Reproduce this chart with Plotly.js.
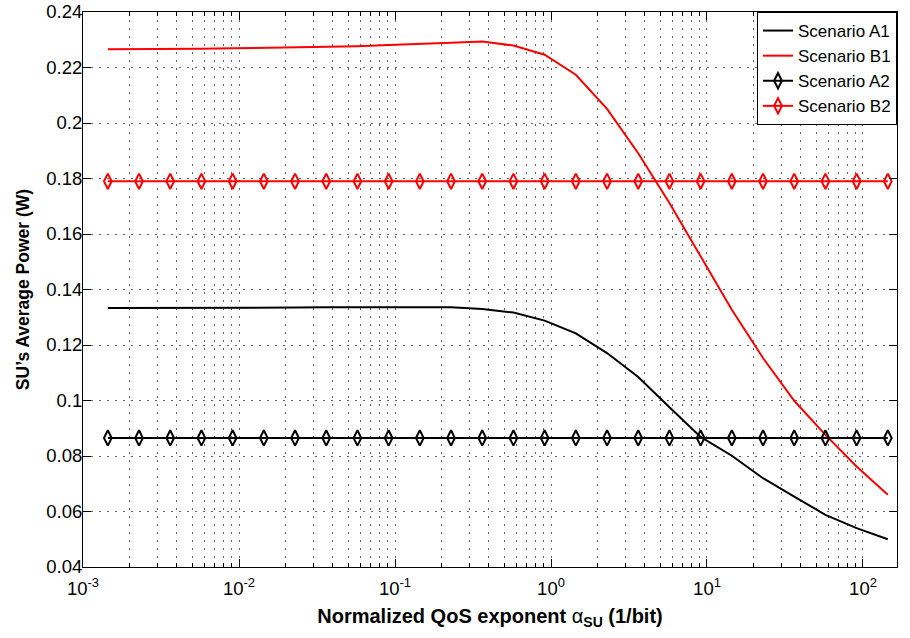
<!DOCTYPE html>
<html>
<head>
<meta charset="utf-8">
<script src="https://cdn.plot.ly/plotly-3.0.1.min.js"></script>
<style>html,body{margin:0;padding:0;background:#fff;}#chart{width:910px;height:638px;}</style>
</head>
<body>
<div id="chart"></div>
<script>
// Normalized QoS exponent alpha_SU (1/bit)
var xAlpha = [0.0014427, 0.0022866, 0.0036239, 0.0057435, 0.0091028, 0.014427, 0.022866, 0.036239, 0.057435, 0.091028,
              0.14427, 0.22866, 0.36239, 0.57435, 0.91028, 1.4427, 2.2866, 3.6239, 5.7435, 9.1028,
              14.427, 22.866, 36.239, 57.435, 91.028, 144.27];

var scenarioA1 = [0.1333, 0.1333, 0.1334, 0.1334, 0.1334, 0.1335, 0.1335, 0.1336, 0.1336, 0.1337,
                  0.1337, 0.1336, 0.1330, 0.1317, 0.1288, 0.1242, 0.1171, 0.1085, 0.0976, 0.0869,
                  0.0801, 0.0720, 0.0654, 0.0588, 0.0540, 0.0500];

var scenarioB1 = [0.2266, 0.2266, 0.2267, 0.2268, 0.2269, 0.2271, 0.2272, 0.2275, 0.2277, 0.2281,
                  0.2284, 0.2289, 0.2294, 0.2279, 0.2246, 0.2174, 0.2051, 0.1891, 0.1712, 0.1517,
                  0.1327, 0.1153, 0.0999, 0.0876, 0.0762, 0.0660];

var scenarioA2 = [0.0865, 0.0865, 0.0865, 0.0865, 0.0865, 0.0865, 0.0865, 0.0865, 0.0865, 0.0865,
                  0.0865, 0.0865, 0.0865, 0.0865, 0.0865, 0.0865, 0.0865, 0.0865, 0.0865, 0.0865,
                  0.0865, 0.0865, 0.0865, 0.0865, 0.0865, 0.0865];

var scenarioB2 = [0.179, 0.179, 0.179, 0.179, 0.179, 0.179, 0.179, 0.179, 0.179, 0.179,
                  0.179, 0.179, 0.179, 0.179, 0.179, 0.179, 0.179, 0.179, 0.179, 0.179,
                  0.179, 0.179, 0.179, 0.179, 0.179, 0.179];

var seriesNames = ['Scenario A1', 'Scenario B1', 'Scenario A2', 'Scenario B2'];

var xTickVals = [0.001, 0.01, 0.1, 1, 10, 100];
var xTickText = ['10<sup>-3</sup>', '10<sup>-2</sup>', '10<sup>-1</sup>', '10<sup>0</sup>', '10<sup>1</sup>', '10<sup>2</sup>'];

var yTickVals = [0.04, 0.06, 0.08, 0.1, 0.12, 0.14, 0.16, 0.18, 0.2, 0.22, 0.24];

// minor tick positions (2..9 in each decade)
var xMinor = [];
for (var d = -3; d <= 2; d++) {
  for (var m = 2; m <= 9; m++) xMinor.push(m * Math.pow(10, d));
}

var FONT = '"Liberation Sans", Arial, Helvetica, sans-serif';
var gridStyle = {color: '#666', dash: '1.5px,6.5px'};

var traces = [
  {x: xAlpha, y: scenarioA1, name: seriesNames[0], mode: 'lines',
   line: {color: '#000000', width: 2}},
  {x: xAlpha, y: scenarioB1, name: seriesNames[1], mode: 'lines',
   line: {color: '#ff0000', width: 2}},
  {x: xAlpha, y: scenarioA2, name: seriesNames[2], mode: 'lines+markers',
   line: {color: '#000000', width: 2},
   marker: {symbol: 'diamond-tall-open', size: 11, color: '#000000', line: {color: '#000000', width: 2}}},
  {x: xAlpha, y: scenarioB2, name: seriesNames[3], mode: 'lines+markers',
   line: {color: '#ff0000', width: 2},
   marker: {symbol: 'diamond-tall-open', size: 11, color: '#ff0000', line: {color: '#ff0000', width: 2}}}
];

var layout = {
  width: 910, height: 638,
  margin: {l: 83, r: 13, t: 12, b: 71},
  paper_bgcolor: '#ffffff', plot_bgcolor: '#ffffff',
  font: {family: FONT, size: 18, color: '#000'},
  showlegend: true,
  legend: {
    x: 1, y: 1, xanchor: 'right', yanchor: 'top',
    bgcolor: '#ffffff', bordercolor: '#000000', borderwidth: 1,
    font: {family: FONT, size: 17, color: '#000'},
    tracegroupgap: 0
  },
  xaxis: {
    type: 'log',
    range: [-3, 2.218],
    tickmode: 'array', tickvals: xTickVals, ticktext: xTickText,
    ticks: 'inside', ticklen: 8, tickwidth: 1, tickcolor: '#000',
    ticklabelstandoff: 5,
    showline: true, linecolor: '#000', linewidth: 1, mirror: 'allticks',
    showgrid: true, gridcolor: gridStyle.color, griddash: gridStyle.dash, gridwidth: 1,
    zeroline: false,
    tickfont: {family: FONT, size: 18.5, color: '#000'},
    minor: {tickmode: 'array', tickvals: xMinor, ticks: 'inside', ticklen: 4, tickcolor: '#000',
            showgrid: true, gridcolor: gridStyle.color, griddash: gridStyle.dash, gridwidth: 1},
    title: {text: '<b>Normalized QoS exponent </b>α<sub><b>SU</b></sub><b> (1/bit)</b>',
            font: {family: FONT, size: 20, color: '#000'}, standoff: 10}
  },
  yaxis: {
    range: [0.04, 0.24],
    tickmode: 'array', tickvals: yTickVals,
    ticks: 'inside', ticklen: 8, tickwidth: 1, tickcolor: '#000',
    ticklabelstandoff: -4,
    showline: true, linecolor: '#000', linewidth: 1, mirror: 'allticks',
    showgrid: true, gridcolor: gridStyle.color, griddash: gridStyle.dash, gridwidth: 1,
    zeroline: false,
    tickfont: {family: FONT, size: 18.5, color: '#000'},
    title: {text: '<b>SU’s Average Power (W)</b>', font: {family: FONT, size: 17.5, color: '#000'}, standoff: 12}
  }
};

Plotly.newPlot('chart', traces, layout, {displayModeBar: false, staticPlot: true});
</script>
</body>
</html>
